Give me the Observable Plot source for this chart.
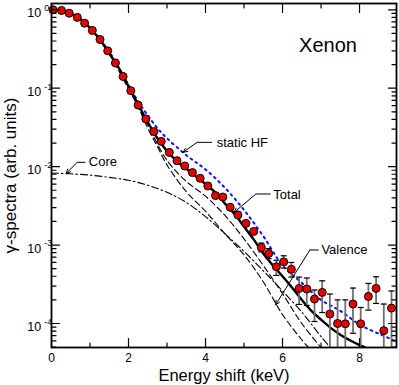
<!DOCTYPE html>
<html><head><meta charset="utf-8">
<script src="https://cdn.jsdelivr.net/npm/d3@7"></script>
<script src="https://cdn.jsdelivr.net/npm/@observablehq/plot@0.6"></script>
<style>body{margin:0;background:#fff} svg{display:block}</style>
</head><body><div id="chart"></div>
<script>
// Experimental points
const pointX = [0.04,0.26,0.46,0.67,0.86,1.06,1.26,1.46,1.66,1.86,2.06,2.25,2.45,2.66,2.85,3.06,3.26,3.46,3.66,3.86,4.06,4.26,4.45,4.64,4.84,5.05,5.25,5.45,5.64,5.84,6.03,6.23,6.43,6.63,6.83,7.03,7.23,7.43,7.63,7.83,8.03,8.23,8.43,8.63,8.83];
const pointY = [1.0,0.98,0.905,0.80,0.675,0.545,0.418,0.30,0.21,0.141,0.093,0.061,0.0406,0.028,0.021,0.0152,0.0119,0.0102,0.0084,0.0071,0.00567,0.00427,0.0041,0.00303,0.00242,0.00189,0.00149,0.00093,0.00078,0.00053,0.00061,0.00049,0.00028,0.000275,0.000205,0.000249,0.000132,0.0001,0.000099,0.000177,0.000099,0.000221,0.00028,0.000081,0.000157];
// Error bars (x, low, high); low below axis = bar reaches the bottom
const errX  = [5.45,5.64,5.84,6.03,6.23,6.43,6.63,6.83,7.03,7.23,7.43,7.63,7.83,8.03,8.23,8.43,8.63,8.83];
const errLo = [8.2e-4,6.7e-4,4.1e-4,5.1e-4,3.9e-4,1.75e-4,1.7e-4,1.06e-4,1.38e-4,1e-5,1e-5,1e-5,7.5e-5,1e-5,1.48e-4,1.8e-4,1e-5,1e-5];
const errHi = [1.06e-3,9.0e-4,6.4e-4,7.3e-4,6.0e-4,3.9e-4,3.8e-4,2.67e-4,3.5e-4,2.37e-4,2.0e-4,2.0e-4,2.83e-4,1.6e-4,3.24e-4,3.94e-4,1.77e-4,2.6e-4];

// Theory curves
const totalX = [0,0.25,0.5,0.75,1.0,1.25,1.5,1.75,2.0,2.25,2.5,2.75,3.0,3.25,3.5,3.75,4.0,4.25,4.5,4.75,5.0,5.25,5.5,5.75,6.0,6.25,6.5,6.75,7.0,7.25,7.5,7.75,8.0,8.25];
const totalY = [1.0,0.975,0.895,0.76,0.59,0.42,0.28,0.18,0.106,0.062,0.037,0.023,0.0158,0.0118,0.0094,0.0075,0.006,0.0047,0.0034,0.0025,0.00172,0.00118,0.00078,0.00055,0.0004,0.000285,0.0002,0.000145,0.000112,0.000088,0.000072,0.000061,0.000053,0.000047];
const hfX = [0,0.5,1.0,1.5,2.0,2.25,2.5,2.75,3.0,3.5,4.0,4.5,5.0,5.5,6.0,6.5,7.0,7.5,8.0,8.5,9.0];
const hfY = [1.0,0.9,0.59,0.29,0.11,0.068,0.045,0.031,0.023,0.014,0.0092,0.0054,0.0028,0.0013,0.00055,0.00033,0.0002,0.000145,0.000097,0.000074,0.000058];
const coreX = [0,0.5,1.0,1.5,2.0,2.5,3.0,3.5,4.0,4.5,5.0,5.5,6.0,6.5,7.0,7.3];
const coreY = [0.0083,0.0081,0.0078,0.0073,0.0067,0.0058,0.0047,0.0035,0.0023,0.0014,0.00083,0.00047,0.00026,0.00014,0.000068,0.000046];
const valX = [0,0.5,1.0,1.5,2.0,2.25,2.5,2.75,3.0,3.5,4.0,4.5,5.0,5.5,6.0,6.5,6.75];
const valY = [0.99,0.885,0.58,0.272,0.098,0.058,0.031,0.018,0.0105,0.0048,0.0027,0.0014,0.00075,0.00034,0.00013,0.000062,0.000045];
const val2X = [0,0.5,1.0,1.5,2.0,2.5,3.0,3.5,4.0,4.5,5.0,5.5,6.0,6.5,7.05];
const val2Y = [0.99,0.885,0.58,0.275,0.1,0.034,0.012,0.0065,0.0042,0.0024,0.0012,0.00055,0.00024,0.0001,0.000046];

// Axis ticks
const yDomain = [4.94e-5, 1.203];
const xMajor = [0,2,4,6,8];
const xMinor = [1,3,5,7];
const yMajor = [1,0.1,0.01,0.001,0.0001];
const yExp = ["0","-1","-2","-3","-4"];
const yMinor = [];
for (const d of [1e-5,1e-4,1e-3,1e-2,1e-1]) for (let k = 2; k <= 9; k++) {
  const v = d * k;
  if (v >= yDomain[0] && v <= yDomain[1]) yMinor.push(v);
}

// Annotations
const labelText = ["static HF","Total","Valence","Core"];
const labelX = [4.29,5.76,7.01,0.97];
const labelY = [0.0204,0.0044,0.000865,0.0116];
const leadX0 = [4.17,5.69,6.94,0.88], leadY0 = [0.0204,0.00448,0.000865,0.01135];
const leadX1 = [3.78,5.31,6.71,0.67], leadY1 = [0.0204,0.00448,0.000865,0.01135];
const leadX2 = [3.42,4.74,5.82,0.38], leadY2 = [0.01524,0.00261,0.000173,0.0082];

const zip = (xs, ys) => xs.map((x, i) => ({x, y: ys[i]}));
const points = zip(pointX, pointY);
const errs = errX.map((x, i) => ({x, lo: errLo[i], hi: errHi[i]}));
const leads = labelText.map((t, i) => ({x0: leadX0[i], y0: leadY0[i], x1: leadX1[i], y1: leadY1[i], x2: leadX2[i], y2: leadY2[i]}));
const labels = labelText.map((t, i) => ({text: t, x: labelX[i], y: labelY[i]}));

const tickShape = {draw(ctx, l) { ctx.moveTo(0, 0); ctx.lineTo(0, -l); }};
const capSymbol = {draw(ctx, size) { const r = Math.sqrt(size / Math.PI); ctx.moveTo(-r, 0); ctx.lineTo(r, 0); }};
const tk = (data, ch, anchor, rot, len) => Plot.vector(data, {[ch]: d => d, frameAnchor: anchor, rotate: rot, length: len, anchor: "start", shape: tickShape, stroke: "black", strokeWidth: 1.2});

const chart = Plot.plot({
  width: 399, height: 385,
  marginLeft: 51, marginRight: 3, marginTop: 3, marginBottom: 38,
  x: {domain: [0, 8.96], axis: null},
  y: {type: "log", domain: yDomain, axis: null},
  style: {fontFamily: "'Liberation Sans', Arial, Helvetica, sans-serif", background: "white", color: "black"},
  marks: [
    Plot.line(zip(hfX, hfY), {x: "x", y: "y", stroke: "#1010ff", strokeWidth: 2, strokeDasharray: "1.8,4.2", curve: "catmull-rom", clip: true}),
    Plot.line(zip(coreX, coreY), {x: "x", y: "y", stroke: "black", strokeWidth: 1.1, strokeDasharray: "7,3,1.5,3", curve: "catmull-rom", clip: true}),
    Plot.line(zip(val2X, val2Y), {x: "x", y: "y", stroke: "black", strokeWidth: 1.1, strokeDasharray: "6,3.5", curve: "catmull-rom", clip: true}),
    Plot.line(zip(valX, valY), {x: "x", y: "y", stroke: "black", strokeWidth: 1.1, strokeDasharray: "6,3.5", curve: "catmull-rom", clip: true}),
    Plot.line(zip(totalX, totalY), {x: "x", y: "y", stroke: "black", strokeWidth: 2.4, curve: "catmull-rom", clip: true}),
    Plot.ruleX(errs, {x: "x", y1: "lo", y2: "hi", stroke: "#707070", strokeWidth: 1.8, clip: true}),
    Plot.dot(errs, {x: "x", y: "hi", symbol: capSymbol, r: 3, stroke: "black", fill: "none", strokeWidth: 1.2, clip: true}),
    Plot.dot(errs, {x: "x", y: "lo", symbol: capSymbol, r: 3, stroke: "black", fill: "none", strokeWidth: 1.2, clip: true}),
    Plot.dot(points, {x: "x", y: "y", r: 4, fill: "#e60000", stroke: "black", strokeWidth: 1}),
    Plot.link(leads, {x1: "x0", y1: "y0", x2: "x1", y2: "y1", stroke: "black", strokeWidth: 1}),
    Plot.arrow(leads, {x1: "x1", y1: "y1", x2: "x2", y2: "y2", stroke: "black", strokeWidth: 1, headLength: 7, headAngle: 50, bend: 0}),
    Plot.text(labels, {x: "x", y: "y", text: "text", textAnchor: "start", fontSize: 13}),
    Plot.text(["Xenon"], {x: 7.18, y: 0.35, fontSize: 20}),
    Plot.frame({stroke: "black", strokeWidth: 1.8}),
    tk(xMajor, "x", "bottom", 0, 9), tk(xMinor, "x", "bottom", 0, 4.5),
    tk(xMajor, "x", "top", 180, 9), tk(xMinor, "x", "top", 180, 4.5),
    tk(yMajor, "y", "left", 90, 8), tk(yMinor, "y", "left", 90, 4.5),
    tk(yMajor, "y", "right", -90, 8), tk(yMinor, "y", "right", -90, 4.5),
    Plot.text(xMajor, {x: d => d, text: d => String(d), frameAnchor: "bottom", textAnchor: "middle", lineAnchor: "top", dy: 6, fontSize: 12}),
    Plot.text(yMajor, {y: d => d, text: () => "10", frameAnchor: "left", textAnchor: "start", lineAnchor: "middle", dx: -24.3, dy: 3.5, fontSize: 12.5}),
    Plot.text(yMajor, {y: d => d, text: (d, i) => yExp[i], frameAnchor: "left", textAnchor: "start", lineAnchor: "middle", dx: -7.3, dy: -1.5, fontSize: 9}),
    Plot.text(["Energy shift (keV)"], {frameAnchor: "bottom", textAnchor: "middle", lineAnchor: "middle", dy: 28.5, fontSize: 16.5}),
    Plot.text(["γ-spectra (arb. units)"], {frameAnchor: "left", textAnchor: "middle", lineAnchor: "middle", dx: -41, rotate: -90, fontSize: 17})
  ]
});
document.getElementById("chart").appendChild(chart);
</script>
</body></html>
